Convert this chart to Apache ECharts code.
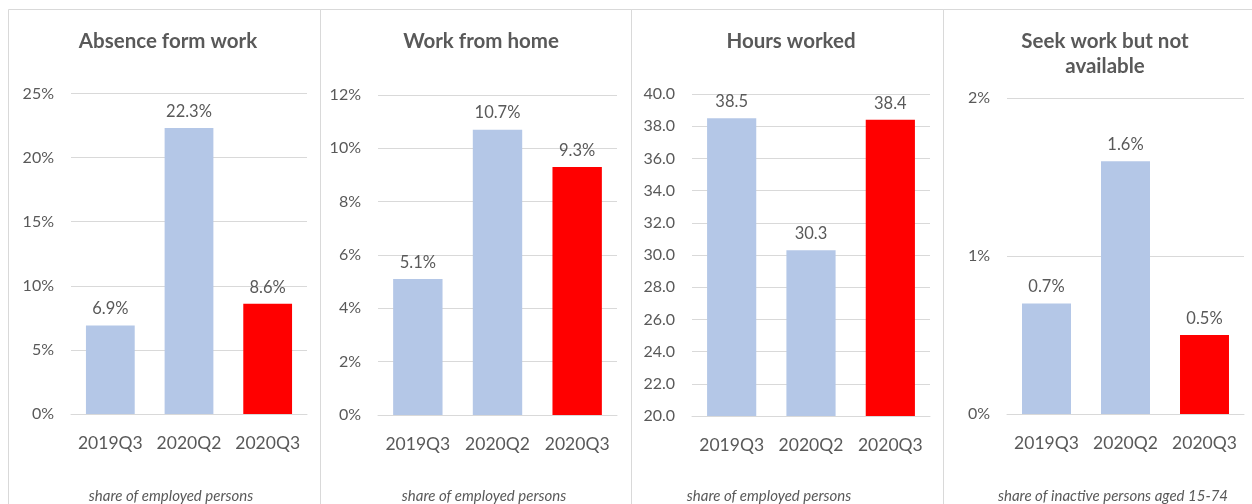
<!DOCTYPE html>
<html>
<head>
<meta charset="utf-8">
<script src="https://cdn.jsdelivr.net/npm/echarts@6/dist/echarts.min.js"></script>
<style>
  html, body { margin: 0; padding: 0; background: #fff; }
  #main { width: 1252px; height: 504px; }
</style>
</head>
<body>
<div id="main"></div>
<script>
// categories
var quarters = ['2019Q3', '2020Q2', '2020Q3'];
// values per panel
var absence = [6.9, 22.3, 8.6];
var homeWork = [5.1, 10.7, 9.3];
var hours = [38.5, 30.3, 38.4];
var seekWork = [0.7, 1.6, 0.5];
// titles and notes
var titles = ['Absence form work', 'Work from home', 'Hours worked', 'Seek work but not\navailable'];
var notes = ['share of employed persons', 'share of employed persons', 'share of employed persons', 'share of inactive persons aged 15-74'];

var font = 'Lato, "Open Sans", sans-serif';
var txt = '#595959';
var grey = '#d9d9d9';
var blue = '#b4c7e7';
var red = '#ff0000';

var chart = echarts.init(document.getElementById('main'));

// panel layout
var panels = [
    { x0: 8,   x1: 320,  left: 71,   width: 236, top: 93.5, bottom: 90, cx: 163 },
    { x0: 320, x1: 631,  left: 378,  width: 239, top: 95,   bottom: 89, cx: 476 },
    { x0: 631, x1: 943,  left: 692,  width: 238, top: 94,   bottom: 88, cx: 786 },
    { x0: 943, x1: 1262, left: 1007, width: 237, top: 98,   bottom: 90, cx: 1100 }
];
var axes = [
    { min: 0,  max: 25, interval: 5, fmt: function (v) { return v + '%'; } },
    { min: 0,  max: 12, interval: 2, fmt: function (v) { return v + '%'; } },
    { min: 20, max: 40, interval: 2, fmt: function (v) { return v.toFixed(1); } },
    { min: 0,  max: 2,  interval: 1, fmt: function (v) { return v + '%'; } }
];
var values = [absence, homeWork, hours, seekWork];
var labelFmt = [
    function (p) { return p.value.toFixed(1) + '%'; },
    function (p) { return p.value.toFixed(1) + '%'; },
    function (p) { return p.value.toFixed(1); },
    function (p) { return p.value.toFixed(1) + '%'; }
];
var noteX = [166, 479, 764, 1108];

var grid = [], xAxis = [], yAxis = [], series = [], title = [], graphic = [];

panels.forEach(function (p, i) {
    grid.push({ left: p.left, width: p.width, top: p.top, bottom: p.bottom });
    xAxis.push({
        type: 'category', gridIndex: i, data: quarters,
        axisLine: { lineStyle: { color: grey, width: 1 } },
        axisTick: { show: false },
        axisLabel: { color: txt, fontFamily: font, fontSize: 17.5, margin: 20, interval: 0, hideOverlap: false }
    });
    yAxis.push({
        type: 'value', gridIndex: i,
        min: axes[i].min, max: axes[i].max, interval: axes[i].interval,
        axisLine: { show: false }, axisTick: { show: false },
        splitLine: { lineStyle: { color: grey, width: 1 } },
        axisLabel: { color: txt, fontFamily: font, fontSize: 16, margin: 17, formatter: axes[i].fmt }
    });
    series.push({
        type: 'bar', xAxisIndex: i, yAxisIndex: i,
        barCategoryGap: '38%',
        data: values[i].map(function (v, j) {
            return { value: v, itemStyle: { color: j === 2 ? red : blue } };
        }),
        label: {
            show: true, position: 'top', distance: 8,
            color: txt, fontFamily: font, fontSize: 16.5,
            formatter: labelFmt[i]
        }
    });
    title.push({
        text: titles[i], left: p.cx, top: 24, textAlign: 'center',
        textStyle: { color: txt, fontFamily: font, fontSize: 20.5, fontWeight: 'bold', lineHeight: 25 }
    });
    title.push({
        text: notes[i], left: noteX[i], top: 484, textAlign: 'center',
        textStyle: { color: txt, fontFamily: font, fontSize: 15, fontStyle: 'italic', fontWeight: 'normal' }
    });
    // panel border
    graphic.push({
        type: 'rect', z: -1, silent: true,
        shape: { x: p.x0 + 0.5, y: 9.5, width: p.x1 - p.x0, height: 510 },
        style: { fill: null, stroke: grey, lineWidth: 1 }
    });
});

chart.setOption({
    animation: false,
    backgroundColor: '#fff',
    title: title,
    grid: grid,
    xAxis: xAxis,
    yAxis: yAxis,
    series: series,
    graphic: graphic
});
</script>
</body>
</html>
